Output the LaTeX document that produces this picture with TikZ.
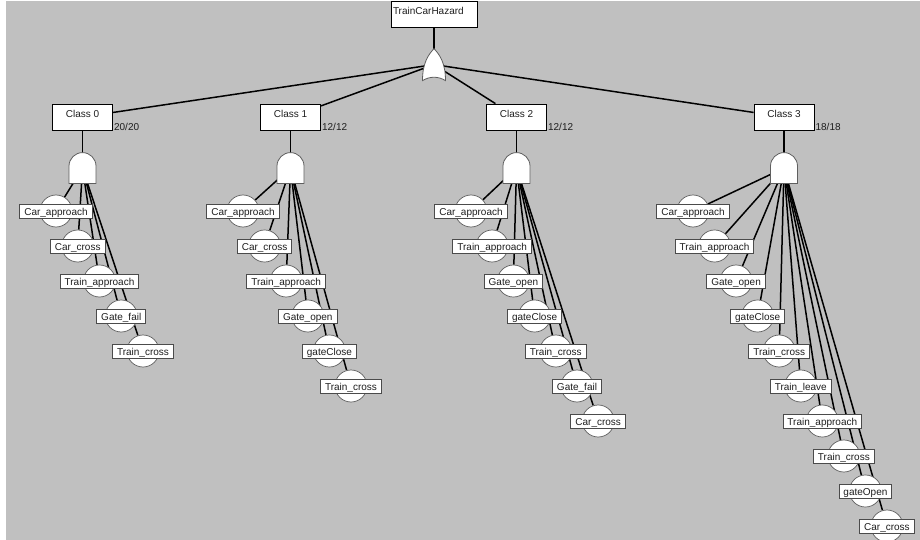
\documentclass[tikz,border=0pt]{standalone}
\usepackage{fontspec}
\setmainfont{Liberation Sans}
\usetikzlibrary{positioning}

\pgfdeclarelayer{back}
\pgfdeclarelayer{edges}
\pgfsetlayers{back,edges,main}

\definecolor{canvas}{RGB}{192,192,192}
\definecolor{rim}{RGB}{95,95,95}
\definecolor{ink}{RGB}{30,30,30}

\tikzset{
  wire/.style={line width=1.5pt, black},
  gateline/.style={draw=rim, fill=white, line width=0.8pt},
  gatebox/.style={minimum width=27pt, minimum height=31pt, inner sep=0pt},
  orbox/.style={minimum width=23pt, minimum height=32pt, inner sep=0pt},
  topbox/.style={draw=black, fill=white, line width=0.8pt, text=ink,
    minimum height=26pt, text width=82pt, inner xsep=2pt, align=left,
    text height=7pt, text depth=5pt},
  classbox/.style={draw=black, fill=white, line width=0.8pt, text=ink,
    minimum width=60pt, minimum height=26pt, text height=7pt, text depth=6pt},
  count/.style={anchor=base west, inner sep=0pt, text=ink},
  leaf/.style={circle, draw=rim, fill=white, line width=0.7pt,
    minimum size=32pt, inner sep=0pt},
  leaftag/.style={draw=ink!80, fill=white, line width=0.9pt, text=ink,
    inner xsep=4.5pt, inner ysep=3pt, text height=8pt, text depth=0pt}
}

\begin{document}
\begin{tikzpicture}[x=1pt, y=-1pt, font=\fontsize{10pt}{12pt}\selectfont]

% Fond
\begin{pgfonlayer}{back}
\fill[white] (0,0) rectangle (920,540);
\fill[canvas] (6,1) rectangle (920,540);
\end{pgfonlayer}
\useasboundingbox (0,0) rectangle (920,540);

\def\dy{35} % pas vertical des feuilles

% Evenement de tete et porte OU
\node[topbox] (top) at (434,14) {TrainCarHazard};
\node[orbox, below=21pt of top] (orgate) {};
\draw[gateline, shift={(orgate.center)}] (-11.5,16)
  .. controls (-11.5,-2) and (-5.5,-10) .. (0,-16)
  .. controls (5.5,-10) and (11.5,-2) .. (11.5,16)
  .. controls (4,11.5) and (-4,11.5) .. cycle;

% Classes
\node[classbox] (c0) at (82.5,117) {Class 0};
\node[classbox] (c1) at (290.5,117) {Class 1};
\node[classbox] (c2) at (516.5,117) {Class 2};
\node[classbox] (c3) at (784,117) {Class 3};

\node[count] (n0) at ([xshift=1pt]c0.south east) {20/20};
\node[count] (n1) at ([xshift=1pt]c1.south east) {12/12};
\node[count] (n2) at ([xshift=1pt]c2.south east) {12/12};
\node[count] (n3) at ([xshift=1pt]c3.south east) {18/18};

% Portes ET
\node[gatebox, below=22pt of c0] (g0) {};
\node[gatebox, below=22pt of c1] (g1) {};
\node[gatebox, below=22pt of c2] (g2) {};
\node[gatebox, below=22pt of c3] (g3) {};
\foreach \g in {g0,g1,g2,g3}
  \draw[gateline, shift={(\g.center)}] (-13.5,15.5) -- (-13.5,-2)
    arc[start angle=180, end angle=360, radius=13.5] -- (13.5,15.5) -- cycle;

% Liaisons du haut
\begin{pgfonlayer}{edges}
\draw[wire] (top) -- (orgate.center);
\foreach \c/\g in {c0/g0,c1/g1,c2/g2,c3/g3} {
  \draw[wire] (orgate.center) -- (\c);
  \draw[wire] (\c) -- (\g.center);
}
\end{pgfonlayer}

% Feuilles, classe 0
\foreach \lbl [count=\i from 0] in {Car\_approach,Car\_cross,Train\_approach,Gate\_fail,Train\_cross} {
  \node[leaf] (l0-\i) at ({56+21.75*\i},{211+\dy*\i}) {};
  \node[leaftag] (t0-\i) at (l0-\i) {\lbl};
  \begin{pgfonlayer}{edges}
    \draw[wire] (g0.center) -- (l0-\i);
  \end{pgfonlayer}
}

% Feuilles, classe 1
\foreach \lbl [count=\i from 0] in {Car\_approach,Car\_cross,Train\_approach,Gate\_open,gateClose,Train\_cross} {
  \node[leaf] (l1-\i) at ({243+21.6*\i},{211+\dy*\i}) {};
  \node[leaftag] (t1-\i) at (l1-\i) {\lbl};
  \begin{pgfonlayer}{edges}
    \draw[wire] (g1.center) -- (l1-\i);
  \end{pgfonlayer}
}

% Feuilles, classe 2
\foreach \lbl [count=\i from 0] in {Car\_approach,Train\_approach,Gate\_open,gateClose,Train\_cross,Gate\_fail,Car\_cross} {
  \node[leaf] (l2-\i) at ({471+21.2*\i},{211+\dy*\i}) {};
  \node[leaftag] (t2-\i) at (l2-\i) {\lbl};
  \begin{pgfonlayer}{edges}
    \draw[wire] (g2.center) -- (l2-\i);
  \end{pgfonlayer}
}

% Feuilles, classe 3
\foreach \lbl [count=\i from 0] in {Car\_approach,Train\_approach,Gate\_open,gateClose,Train\_cross,Train\_leave,Train\_approach,Train\_cross,gateOpen,Car\_cross} {
  \node[leaf] (l3-\i) at ({693+21.55*\i},{211+\dy*\i}) {};
  \node[leaftag] (t3-\i) at (l3-\i) {\lbl};
  \begin{pgfonlayer}{edges}
    \draw[wire] (g3.center) -- (l3-\i);
  \end{pgfonlayer}
}

\end{tikzpicture}
\end{document}
